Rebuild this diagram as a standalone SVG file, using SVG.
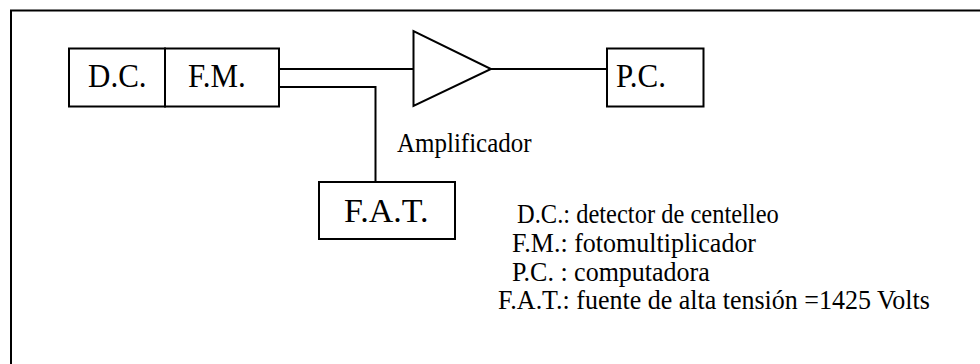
<svg xmlns="http://www.w3.org/2000/svg" width="980" height="364" viewBox="0 0 980 364">
<style>
.s{fill:#fff;stroke:#000;stroke-width:2}
.l{fill:none;stroke:#000;stroke-width:2}
text{font-family:"Liberation Serif","Times New Roman",serif;fill:#000}
.b{font-size:31px}
.f{font-size:34px}
.m{font-size:26px}
.d{font-size:24.500px}
.k{font-size:25px}
</style>
<rect width="980" height="364" fill="#fff"/>
<path id="frame" class="l" d="M11 364V10.500H980"/>
<g id="connectors">
<path class="l" d="M279 69H414"/>
<path class="l" d="M490 69H607"/>
<path class="l" d="M279 87H375.500V182"/>
</g>
<g id="dc"><rect class="s" x="69" y="48.500" width="96" height="58"/><text class="b" transform="translate(88 87) scale(1 1.12)">D.C.</text></g>
<g id="fm"><rect class="s" x="165" y="48.500" width="114" height="58"/><text class="b" transform="translate(188 87) scale(1 1.12)">F.M.</text></g>
<g id="amp"><path class="s" d="M413.500 31V106L491 69Z"/><text class="k" transform="translate(397 152) scale(1 1.1)">Amplificador</text></g>
<g id="pc"><rect class="s" x="607" y="48.500" width="96.500" height="58"/><text class="b" transform="translate(616 87) scale(1 1.12)">P.C.</text></g>
<g id="fat"><rect class="s" x="319" y="182" width="136" height="57"/><text class="f" x="344" y="222">F.A.T.</text></g>
<g id="legend">
<text class="d" transform="translate(517 223) scale(1 1.12)">D.C.: detector de centelleo</text>
<text class="m" transform="translate(512 252) scale(1 1.05)">F.M.: fotomultiplicador</text>
<text class="m" transform="translate(512 280.500) scale(1 1.05)">P.C. : computadora</text>
<text class="m" transform="translate(498 309) scale(1 1.05)">F.A.T.: fuente de alta tensión =1425 Volts</text>
</g>
</svg>
